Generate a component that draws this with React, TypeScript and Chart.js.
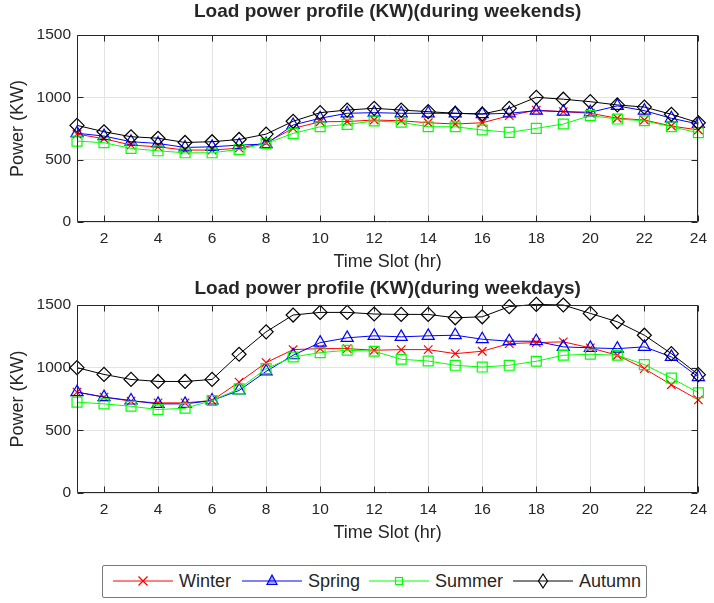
import React, { useEffect, useRef } from 'react';
import { Chart, registerables } from 'chart.js';

Chart.register(...registerables);

// ---------------- data ----------------
const hours = [1, 2, 3, 4, 5, 6, 7, 8, 9, 10, 11, 12, 13, 14, 15, 16, 17, 18, 19, 20, 21, 22, 23, 24];
const xTicks = [2, 4, 6, 8, 10, 12, 14, 16, 18, 20, 22, 24];
const yTicks = [0, 500, 1000, 1500];
const seriesNames = ['Winter', 'Spring', 'Summer', 'Autumn'];

const winterWeekend = [705, 668, 617, 603, 577, 577, 592, 636, 751, 804, 806, 818, 812, 796, 786, 796, 853, 898, 885, 872, 832, 818, 770, 738];
const springWeekend = [712, 689, 644, 630, 598, 603, 617, 625, 778, 832, 872, 877, 872, 872, 872, 866, 872, 893, 885, 880, 931, 893, 832, 786];
const summerWeekend = [649, 636, 590, 571, 555, 555, 582, 630, 711, 764, 783, 810, 800, 764, 764, 738, 719, 751, 786, 853, 826, 812, 764, 716];
const autumnWeekend = [775, 724, 684, 672, 638, 644, 662, 705, 808, 877, 898, 912, 898, 885, 872, 866, 912, 1000, 985, 965, 939, 922, 864, 796];

const winterWeekday = [805, 765, 733, 719, 719, 738, 885, 1040, 1144, 1152, 1152, 1139, 1144, 1144, 1112, 1131, 1192, 1200, 1206, 1158, 1099, 992, 864, 743];
const springWeekday = [805, 765, 738, 711, 711, 738, 818, 970, 1099, 1200, 1238, 1254, 1246, 1254, 1259, 1227, 1211, 1211, 1166, 1158, 1152, 1166, 1086, 925];
const summerWeekday = [725, 711, 692, 666, 676, 738, 831, 992, 1085, 1120, 1139, 1131, 1067, 1053, 1019, 1005, 1019, 1051, 1099, 1107, 1099, 1024, 917, 800];
const autumnWeekday = [1000, 946, 906, 890, 890, 906, 1107, 1286, 1420, 1441, 1441, 1428, 1425, 1425, 1398, 1406, 1487, 1505, 1500, 1433, 1366, 1259, 1112, 944];

// ---------------- styles ----------------
const FONT = '"Liberation Sans", Arial, Helvetica, sans-serif';
const INK = '#262626';
const GRID = '#e4e4e4';
const seriesStyles = [
  { color: '#ff0000', pointStyle: 'crossRot', radius: 6, order: 4 },
  { color: '#0000ff', pointStyle: 'triangle', radius: 7, order: 3 },
  { color: '#00ff00', pointStyle: 'rect', radius: 7, order: 2 },
  { color: '#000000', pointStyle: 'rectRot', radius: 7, order: 1 },
];
const legendSlots = [
  { lineX: 113, textX: 179 },
  { lineX: 242, textX: 308 },
  { lineX: 369, textX: 435 },
  { lineX: 513, textX: 579 },
];

const boxPlugin = {
  id: 'matlabBox',
  afterDraw(chart: any) {
    const { ctx, chartArea: a, scales } = chart;
    const L = Math.round(a.left) + 0.5;
    const R = Math.round(a.right) - 0.5;
    const T = Math.round(a.top) + 0.5;
    const B = Math.round(a.bottom) - 0.5;
    ctx.save();
    ctx.strokeStyle = INK;
    ctx.lineWidth = 1;
    ctx.beginPath();
    ctx.rect(L, T, R - L, B - T);
    const tl = 6;
    scales.x.ticks.forEach((t: any) => {
      const px = Math.round(scales.x.getPixelForValue(t.value)) + 0.5;
      ctx.moveTo(px, B);
      ctx.lineTo(px, B - tl);
      ctx.moveTo(px, T);
      ctx.lineTo(px, T + tl);
    });
    scales.y.ticks.forEach((t: any) => {
      const py = Math.round(scales.y.getPixelForValue(t.value)) + 0.5;
      ctx.moveTo(L, py);
      ctx.lineTo(L + tl, py);
      ctx.moveTo(R, py);
      ctx.lineTo(R - tl, py);
    });
    ctx.stroke();
    // axes title centred over the plot area (MATLAB style)
    const text = chart.options.plugins.matlabBox?.text || '';
    const ty = chart.options.plugins.matlabBox?.y || 12;
    ctx.fillStyle = INK;
    ctx.font = `bold 19px ${FONT}`;
    ctx.textAlign = 'center';
    ctx.textBaseline = 'middle';
    ctx.fillText(text, (a.left + a.right) / 2, ty);
    ctx.restore();
  },
};

type PanelProps = {
  title: string;
  series: number[][];
  top: number;
  height: number;
  padTop: number;
  titleY: number;
  xAxisHeight: number;
  xTitlePad: number;
};

function Panel({ title, series, top, height, padTop, titleY, xAxisHeight, xTitlePad }: PanelProps) {
  const ref = useRef<HTMLCanvasElement>(null);
  useEffect(() => {
    if (!ref.current) return;
    const datasets = series.map((vals, i) => ({
      label: seriesNames[i],
      data: vals.map((v, k) => ({ x: hours[k], y: v })),
      borderColor: seriesStyles[i].color,
      backgroundColor: 'transparent',
      pointBorderColor: seriesStyles[i].color,
      pointBackgroundColor: 'transparent',
      pointStyle: seriesStyles[i].pointStyle as any,
      pointRadius: seriesStyles[i].radius,
      pointBorderWidth: 1.2,
      borderWidth: 1,
      tension: 0,
      clip: false as any,
      order: seriesStyles[i].order,
    }));
    const chart = new Chart(ref.current, {
      type: 'line',
      data: { datasets },
      plugins: [boxPlugin],
      options: {
        responsive: false,
        animation: false,
        events: [],
        layout: { padding: { left: 0, right: 11, top: padTop, bottom: 0 } },
        plugins: {
          legend: { display: false },
          tooltip: { enabled: false },
          title: { display: false },
          matlabBox: { text: title, y: titleY },
        } as any,
        scales: {
          x: {
            type: 'linear',
            min: 1,
            max: 24,
            afterBuildTicks: (s: any) => {
              s.ticks = xTicks.map((v) => ({ value: v }));
            },
            afterFit: (s: any) => {
              s.height = xAxisHeight;
            },
            grid: { color: GRID, drawTicks: false, lineWidth: 1 },
            border: { display: false },
            ticks: {
              color: INK,
              padding: 7,
              font: { family: FONT, size: 15.5 },
              maxRotation: 0,
              autoSkip: false,
              callback: (v: any) => String(v),
            },
            title: {
              display: true,
              text: 'Time Slot (hr)',
              color: INK,
              font: { family: FONT, size: 18, lineHeight: 1.2 },
              padding: { top: 0, bottom: xTitlePad },
            },
          },
          y: {
            type: 'linear',
            min: 0,
            max: 1500,
            afterBuildTicks: (s: any) => {
              s.ticks = yTicks.map((v) => ({ value: v }));
            },
            afterFit: (s: any) => {
              s.width = 77;
            },
            grid: { color: GRID, drawTicks: false, lineWidth: 1 },
            border: { display: false },
            ticks: {
              color: INK,
              padding: 6,
              font: { family: FONT, size: 15.5 },
              callback: (v: any) => String(v),
            },
            title: {
              display: true,
              text: 'Power (KW)',
              color: INK,
              font: { family: FONT, size: 18, lineHeight: 1.2 },
              padding: { top: 7, bottom: 0 },
            },
          },
        },
      },
    });
    return () => chart.destroy();
  }, []);
  return (
    <canvas
      ref={ref}
      width={714}
      height={height}
      style={{ position: 'absolute', left: 0, top, width: 714, height, display: 'block' }}
    />
  );
}

function LegendIcon({ idx }: { idx: number }) {
  const st = seriesStyles[idx];
  const c = st.color;
  const cx = 30;
  const cy = 10;
  let marker: React.ReactNode = null;
  if (st.pointStyle === 'crossRot') {
    marker = (
      <g stroke={c} strokeWidth={1.2}>
        <line x1={cx - 4.5} y1={cy - 4.5} x2={cx + 4.5} y2={cy + 4.5} />
        <line x1={cx - 4.5} y1={cy + 4.5} x2={cx + 4.5} y2={cy - 4.5} />
      </g>
    );
  } else if (st.pointStyle === 'triangle') {
    marker = <polygon points={`${cx},${cy - 6} ${cx + 5},${cy + 3.5} ${cx - 5},${cy + 3.5}`} fill="rgba(0,0,255,0.35)" stroke={c} strokeWidth={1.2} />;
  } else if (st.pointStyle === 'rect') {
    marker = <rect x={cx - 3.5} y={cy - 3.5} width={7} height={7} fill="none" stroke={c} strokeWidth={1.2} />;
  } else {
    marker = <polygon points={`${cx},${cy - 7} ${cx + 4.5},${cy} ${cx},${cy + 7} ${cx - 4.5},${cy}`} fill="none" stroke={c} strokeWidth={1.2} />;
  }
  return (
    <svg width={60} height={20} style={{ position: 'absolute', left: 0, top: 0 }}>
      <line x1={0} y1={cy} x2={60} y2={cy} stroke={c} strokeWidth={1} />
      {marker}
    </svg>
  );
}

export default function App() {
  useEffect(() => {
    document.body.style.margin = '0';
  }, []);
  return (
    <div style={{ position: 'absolute', left: 0, top: 0, width: 714, height: 603, background: '#fff', overflow: 'hidden' }}>
      <Panel
        title="Load power profile (KW)(during weekends)"
        series={[winterWeekend, springWeekend, summerWeekend, autumnWeekend]}
        top={0}
        height={275}
        padTop={35}
        titleY={12}
        xAxisHeight={53}
        xTitlePad={2.2}
      />
      <Panel
        title="Load power profile (KW)(during weekdays)"
        series={[winterWeekday, springWeekday, summerWeekday, autumnWeekday]}
        top={275}
        height={279}
        padTop={30}
        titleY={14}
        xAxisHeight={61}
        xTitlePad={10.2}
      />
      <div
        style={{
          position: 'absolute',
          left: 102,
          top: 565,
          width: 545,
          height: 33,
          boxSizing: 'border-box',
          border: '1.5px solid #7a7a7a',
          borderRadius: 2,
          background: '#fff',
        }}
      />
      {seriesNames.map((name, i) => (
        <div key={name}>
          <div style={{ position: 'absolute', left: legendSlots[i].lineX, top: 571, width: 60, height: 20 }}>
            <LegendIcon idx={i} />
          </div>
          <div
            style={{
              position: 'absolute',
              left: legendSlots[i].textX,
              top: 570,
              height: 22,
              lineHeight: '22px',
              fontFamily: FONT,
              fontSize: 18,
              color: INK,
              whiteSpace: 'nowrap',
            }}
          >
            {name}
          </div>
        </div>
      ))}
    </div>
  );
}
